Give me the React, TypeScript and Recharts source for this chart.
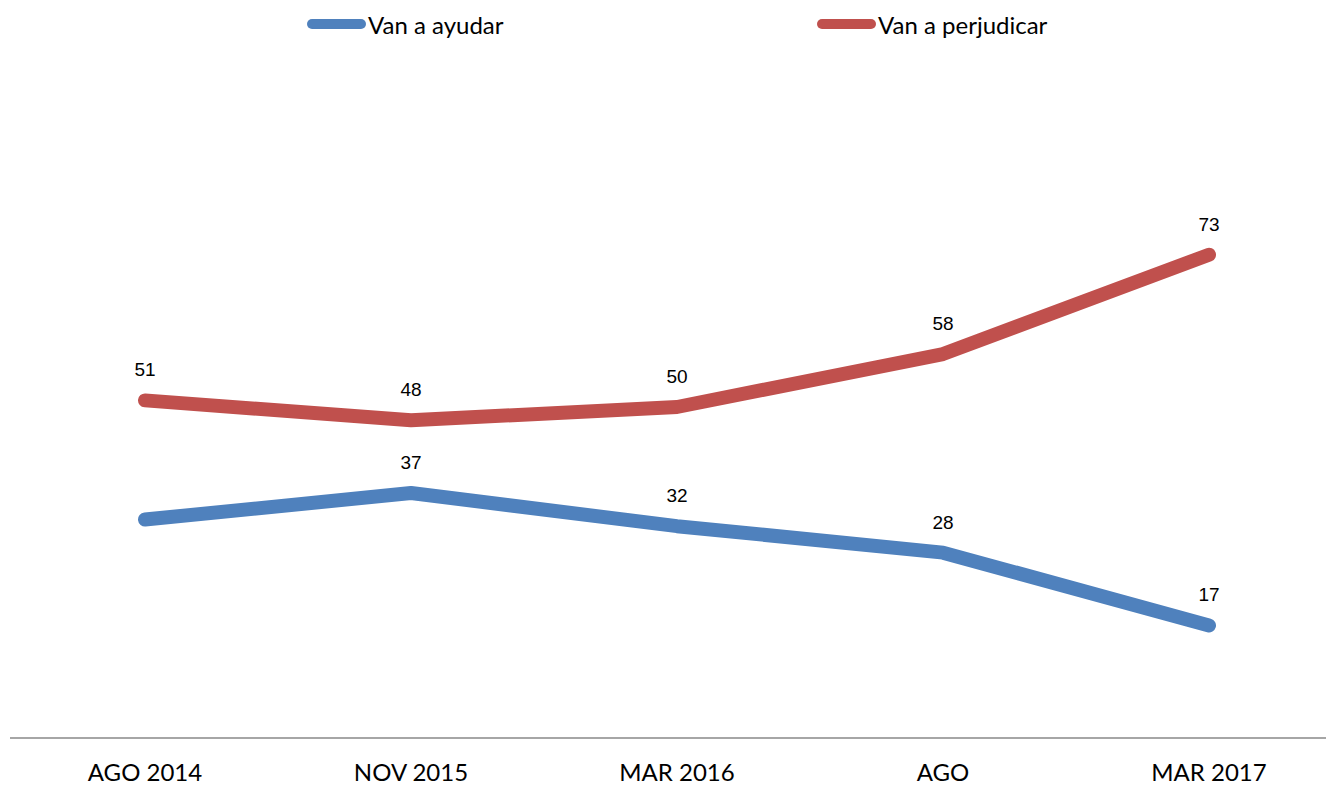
import React from "react";
import { LineChart, Line, XAxis, YAxis, LabelList } from "recharts";

const periods = ["AGO 2014", "NOV 2015", "MAR 2016", "AGO", "MAR 2017"];
const ayudar = [33, 37, 32, 28, 17];
const perjudicar = [51, 48, 50, 58, 73];
// the first "ayudar" point carries no label in the source chart
const ayudarShowLabel = [false, true, true, true, true];

const BLUE = "#4F81BD";
const RED = "#C0504D";

const data = periods.map((p, i) => ({
  period: p,
  ayudar: ayudar[i],
  perjudicar: perjudicar[i],
}));

const makeLabel = (show: boolean[] | null) => (props: any) => {
  const { x, y, value, index } = props;
  if (show && !show[index]) return null;
  return (
    <text
      x={x}
      y={y - 24}
      textAnchor="middle"
      fontSize={19}
      fontFamily="'Liberation Sans', Arial, sans-serif"
      fill="#000"
    >
      {value}
    </text>
  );
};

const legendItems = [
  { label: "Van a ayudar", color: BLUE, left: 307 },
  { label: "Van a perjudicar", color: RED, left: 817 },
];

const FONT = "Lato, 'Open Sans', sans-serif";

export default function App() {
  return (
    <div style={{ position: "absolute", left: 0, top: 0, width: 1326, height: 786, background: "#fff" }}>
      {legendItems.map((item) => (
        <div
          key={item.label}
          style={{
            position: "absolute",
            left: item.left,
            top: 7,
            height: 34,
            display: "flex",
            alignItems: "center",
            fontFamily: FONT,
            fontSize: 24,
            color: "#000",
          }}
        >
          <span
            style={{
              display: "inline-block",
              width: 59,
              height: 10,
              borderRadius: 5,
              background: item.color,
              marginRight: 2,
            }}
          />
          {item.label}
        </div>
      ))}
      <LineChart
        width={1326}
        height={786}
        data={data}
        margin={{ top: 76, right: 0, bottom: 0, left: 10 }}
      >
        <XAxis
          dataKey="period"
          height={48}
          padding={{ left: 135, right: 117 }}
          axisLine={{ stroke: "#888", strokeWidth: 1.5 }}
          tickLine={false}
          tick={{ fontSize: 24, fill: "#000", fontFamily: FONT }}
          tickMargin={20}
          interval={0}
        />
        <YAxis hide domain={[0, 100]} />
        <Line
          dataKey="perjudicar"
          stroke={RED}
          strokeWidth={14}
          strokeLinecap="round"
          strokeLinejoin="round"
          dot={false}
          isAnimationActive={false}
        >
          <LabelList dataKey="perjudicar" content={makeLabel(null)} />
        </Line>
        <Line
          dataKey="ayudar"
          stroke={BLUE}
          strokeWidth={14}
          strokeLinecap="round"
          strokeLinejoin="round"
          dot={false}
          isAnimationActive={false}
        >
          <LabelList dataKey="ayudar" content={makeLabel(ayudarShowLabel)} />
        </Line>
      </LineChart>
    </div>
  );
}
